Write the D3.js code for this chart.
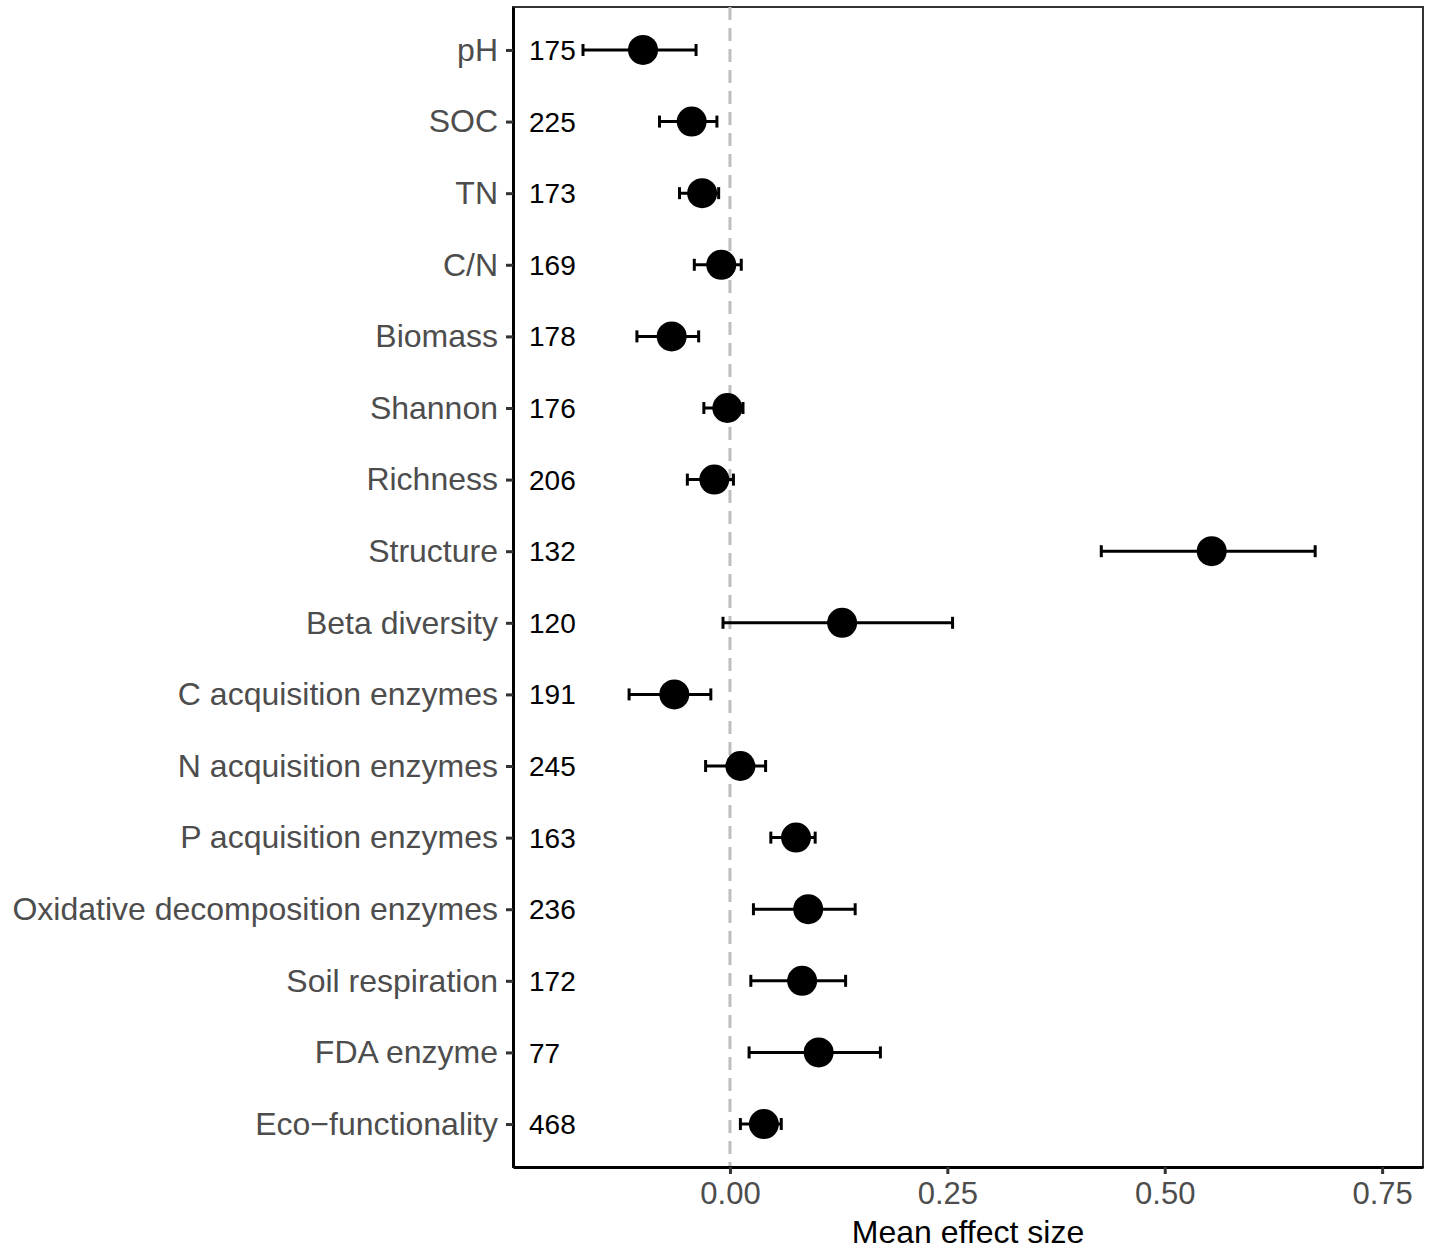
<!DOCTYPE html>
<html>
<head>
<meta charset="utf-8">
<script src="https://cdn.jsdelivr.net/npm/d3@7"></script>
<style>
  body { margin: 0; background: #fff; }
  svg { display: block; font-family: "Liberation Sans", Arial, sans-serif; }
</style>
</head>
<body>
<div id="chart"></div>
<script>
// categories (top to bottom)
const categories = ['pH', 'SOC', 'TN', 'C/N', 'Biomass', 'Shannon', 'Richness', 'Structure',
  'Beta diversity', 'C acquisition enzymes', 'N acquisition enzymes', 'P acquisition enzymes',
  'Oxidative decomposition enzymes', 'Soil respiration', 'FDA enzyme', 'Eco\u2212functionality'];
// sample sizes shown beside the axis
const sampleSizes = [175, 225, 173, 169, 178, 176, 206, 132, 120, 191, 245, 163, 236, 172, 77, 468];
// mean effect sizes and CI bounds
const means = [-0.100, -0.044, -0.032, -0.010, -0.067, -0.003, -0.018, 0.554,
  0.129, -0.064, 0.012, 0.076, 0.090, 0.083, 0.102, 0.039];
const lower = [-0.169, -0.081, -0.058, -0.041, -0.107, -0.030, -0.049, 0.427,
  -0.008, -0.116, -0.028, 0.047, 0.027, 0.024, 0.022, 0.012];
const upper = [-0.039, -0.015, -0.013, 0.013, -0.036, 0.015, 0.004, 0.673,
  0.256, -0.022, 0.041, 0.098, 0.144, 0.133, 0.173, 0.059];
const xTicks = [0, 0.25, 0.5, 0.75];
const xDomain = [-0.2495, 0.797];

const W = 1430, H = 1251;
const panel = {left: 513, right: 1423, top: 7, bottom: 1167};

const rows = categories.map((c, i) => ({
  cat: c, n: sampleSizes[i], mean: means[i], lo: lower[i], hi: upper[i]
}));

const svg = d3.select('#chart').append('svg')
  .attr('width', W)
  .attr('height', H);

const x = d3.scaleLinear()
  .domain(xDomain)
  .range([panel.left, panel.right]);

const y = d3.scalePoint()
  .domain(categories)
  .range([panel.top, panel.bottom])
  .padding(0.6);

// panel border (top / right)
svg.append('rect')
  .attr('x', panel.left)
  .attr('y', panel.top)
  .attr('width', panel.right - panel.left)
  .attr('height', panel.bottom - panel.top)
  .attr('fill', 'none')
  .attr('stroke', '#333')
  .attr('stroke-width', 2);

// zero reference line
svg.append('line')
  .attr('x1', x(0)).attr('x2', x(0))
  .attr('y1', panel.top).attr('y2', panel.bottom)
  .attr('stroke', '#bebebe')
  .attr('stroke-width', 3)
  .attr('stroke-dasharray', '13,8');

// error bars
const bars = svg.append('g').selectAll('g')
  .data(rows)
  .enter().append('g')
    .attr('stroke', '#000')
    .attr('stroke-width', 3);

bars.append('line')
  .attr('x1', d => x(d.lo)).attr('x2', d => x(d.hi))
  .attr('y1', d => y(d.cat)).attr('y2', d => y(d.cat));
bars.append('line')
  .attr('x1', d => x(d.lo)).attr('x2', d => x(d.lo))
  .attr('y1', d => y(d.cat) - 6).attr('y2', d => y(d.cat) + 6);
bars.append('line')
  .attr('x1', d => x(d.hi)).attr('x2', d => x(d.hi))
  .attr('y1', d => y(d.cat) - 6).attr('y2', d => y(d.cat) + 6);

// points
svg.append('g').selectAll('circle')
  .data(rows)
  .enter().append('circle')
    .attr('cx', d => x(d.mean))
    .attr('cy', d => y(d.cat))
    .attr('r', 15)
    .attr('fill', '#000');

// sample size labels
svg.append('g').selectAll('text')
  .data(rows)
  .enter().append('text')
    .attr('x', panel.left + 16)
    .attr('y', d => y(d.cat))
    .attr('dy', '0.36em')
    .attr('font-size', 28)
    .attr('fill', '#000')
    .text(d => d.n);

// x axis
const xAxis = svg.append('g')
  .attr('transform', `translate(0,${panel.bottom})`)
  .call(d3.axisBottom(x).tickValues(xTicks).tickFormat(d3.format('.2f'))
    .tickSize(7).tickSizeOuter(0).tickPadding(8));
xAxis.select('.domain').attr('stroke', '#000').attr('stroke-width', 3);
xAxis.selectAll('.tick line').attr('stroke', '#333').attr('stroke-width', 3);
xAxis.selectAll('.tick text').attr('font-size', 31).attr('fill', '#4d4d4d');

// y axis
const yAxis = svg.append('g')
  .attr('transform', `translate(${panel.left},0)`)
  .call(d3.axisLeft(y).tickSize(7).tickSizeOuter(0).tickPadding(8));
yAxis.select('.domain').attr('stroke', '#000').attr('stroke-width', 3);
yAxis.selectAll('.tick line').attr('stroke', '#333').attr('stroke-width', 3);
yAxis.selectAll('.tick text').attr('font-size', 32).attr('fill', '#4d4d4d');

// axis title
svg.append('text')
  .attr('x', (panel.left + panel.right) / 2)
  .attr('y', 1243)
  .attr('text-anchor', 'middle')
  .attr('font-size', 32)
  .attr('fill', '#000')
  .text('Mean effect size');
</script>
</body>
</html>
